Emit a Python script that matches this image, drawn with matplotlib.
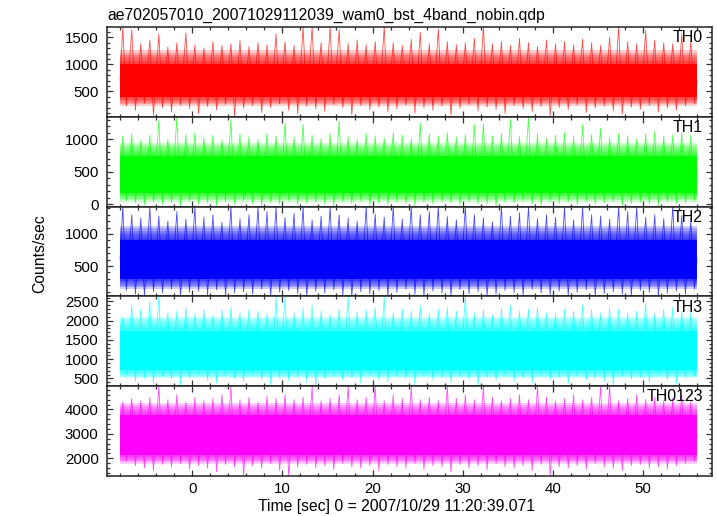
"""
Recreate the Suzaku WAM burst light curve (4 bands + sum) as stacked qdp-style panels.
Output: out.png
"""
import matplotlib.pyplot as plt
import numpy as np
from matplotlib.ticker import MultipleLocator

plt.rcParams["font.family"] = ["Liberation Sans", "DejaVu Sans"]

TITLE = "ae702057010_20071029112039_wam0_bst_4band_nobin.qdp"
XLABEL = "Time [sec] 0 = 2007/10/29 11:20:39.071"
YLABEL = "Counts/sec"

T_START, T_STOP = -8.0, 56.0            # data span (s)
XLIM = (-9.45, 57.65)

BANDS = ["TH0", "TH1", "TH2", "TH3", "TH0123"]
COLORS = ["#ff0000", "#00ff00", "#0000ff", "#00ffff", "#ff00ff"]
YLIMS = [(30, 1690), (-37, 1343), (27, 1427), (300, 2630), (1280, 4950)]
MAJOR = [500, 500, 500, 500, 1000]
MINOR = [100, 100, 100, 100, 200]

# dense core of each band (counts/s), and typical extent of the fringe
CORE = [(400, 1000), (170, 740), (300, 900), (720, 1740), (2120, 3780)]
FRINGE = [(230, 1260), (40, 940), (140, 1130), (500, 2100), (1780, 4250)]

# per-1 s window maxima / minima (windows -8 .. 56 s)
TH0_MAX = [1690, 1640, 1380, 1450, 1560, 1320, 1400, 1580, 1360, 1300, 1420, 1350,
           1380, 1440, 1330, 1400, 1360, 1560, 1420, 1350, 1690, 1690, 1400, 1690,
           1640, 1380, 1450, 1360, 1420, 1690, 1400, 1350, 1460, 1590, 1380, 1650,
           1420, 1360, 1400, 1480, 1690, 1380, 1420, 1350, 1480, 1400, 1330, 1450,
           1380, 1420, 1360, 1470, 1400, 1350, 1500, 1690, 1420, 1380, 1620, 1450,
           1400, 1380, 1560, 1420]
TH0_MIN = [230, 150, 280, 60, 200, 120, 250, 180, 90, 220, 160, 260, 40, 190, 240, 110,
           200, 270, 150, 80, 230, 180, 130, 260, 200, 70, 240, 160, 210, 120, 180, 250,
           100, 200, 150, 230, 60, 190, 260, 140, 210, 170, 90, 240, 180, 130, 220, 50,
           200, 160, 250, 110, 190, 230, 140, 80, 210, 170, 240, 120, 190, 150, 230, 280]
TH1_MAX = [1050, 1080, 980, 1060, 1290, 1000, 1343, 1070, 1100, 1020, 1060, 990,
           1300, 1080, 1040, 1000, 1090, 1050, 1250, 1030, 1230, 1060, 1010, 1080,
           1280, 1040, 1000, 1090, 1050, 1020, 1100, 1060, 1000, 1250, 1080, 1040,
           1100, 1030, 1070, 1220, 1230, 1050, 1090, 1300, 1040, 1343, 1080, 1010,
           1060, 1100, 1040, 1220, 1070, 1170, 1020, 1090, 1050, 1000, 1080, 1120,
           1040, 1070, 1100, 1060]
TH1_MIN = [60, 20, -10, 40, 0, 30, -37, 50, 10, 20, -20, 40, 0, 60, 10, -30, 30, 0, 50,
           -10, 20, 40, 0, -37, 30, 10, 50, -20, 20, 0, 40, 10, -30, 30, 0, 50, 20, -10,
           40, 0, 10, -37, 30, 20, 50, 0, -20, 40, 10, 30, -10, 50, 0, 20, 40, -30, 10,
           30, 0, -20, 40, 10, 20, 50]
TH2_MAX = [1427, 1300, 1250, 1427, 1280, 1200, 1350, 1230, 1427, 1260, 1300, 1180,
           1427, 1240, 1300, 1427, 1350, 1427, 1260, 1320, 1427, 1220, 1280, 1427,
           1300, 1250, 1200, 1427, 1310, 1260, 1427, 1230, 1427, 1300, 1350, 1427,
           1270, 1220, 1427, 1300, 1250, 1190, 1427, 1280, 1330, 1427, 1240, 1300,
           1260, 1427, 1220, 1427, 1300, 1280, 1230, 1427, 1350, 1427, 1260, 1300,
           1240, 1427, 1290, 1200]
TH2_MIN = [120, 60, 27, 100, 80, 140, 27, 90, 110, 50, 130, 27, 80, 100, 60, 140, 27,
           90, 120, 70, 27, 110, 80, 130, 50, 27, 100, 70, 120, 27, 90, 140, 60, 27,
           110, 80, 27, 130, 70, 100, 27, 60, 120, 90, 27, 140, 80, 50, 110, 27, 90,
           130, 27, 70, 100, 60, 27, 120, 90, 27, 80, 110, 60, 140]
TH3_MAX = [2080, 2400, 2300, 2500, 2630, 2200, 2250, 2350, 2180, 2300, 2150, 2280,
           2350, 2200, 2300, 2250, 2180, 2630, 2630, 2200, 2320, 2400, 2250, 2150,
           2300, 2630, 2220, 2280, 2350, 2630, 2200, 2300, 2250, 2400, 2180, 2300,
           2350, 2250, 2630, 2200, 2280, 2150, 2320, 2400, 2250, 2300, 2350, 2200,
           2180, 2300, 2250, 2400, 2280, 2200, 2350, 2300, 2200, 2250, 2450, 2180,
           2300, 2350, 2250, 2200]
TH3_MIN = [600, 420, 500, 350, 550, 480, 300, 520, 600, 450, 380, 560, 500, 420, 600,
           480, 350, 520, 450, 560, 400, 300, 500, 580, 450, 520, 380, 600, 470, 420,
           550, 500, 330, 580, 460, 520, 400, 560, 480, 300, 540, 450, 600, 420, 500,
           380, 560, 470, 520, 350, 580, 450, 500, 420, 300, 560, 480, 530, 400, 600,
           460, 350, 520, 560]
SUM_MAX = [4300, 4450, 4350, 4500, 4950, 4400, 4600, 4300, 4500, 4350, 4450, 4600,
           4950, 4400, 4500, 4300, 4550, 4450, 4600, 4400, 4500, 4950, 4350, 4450,
           4600, 4950, 4400, 4500, 4950, 4350, 4600, 4450, 4950, 4400, 4500, 4350,
           4950, 4450, 4600, 4400, 4950, 4500, 4350, 4450, 4600, 4400, 4950, 4500,
           4350, 4450, 4600, 4400, 4500, 4950, 4950, 4350, 4450, 4600, 4400, 4500,
           4350, 4450, 4600, 4300]
SUM_MIN = [1900, 1700, 1600, 1500, 1750, 1650, 1800, 1550, 1700, 1600, 1450, 1750,
           1650, 1280, 1700, 1600, 1800, 1500, 1280, 1650, 1750, 1600, 1700, 1550,
           1800, 1650, 1600, 1700, 1500, 1750, 1650, 1600, 1800, 1550, 1700, 1650,
           1450, 1750, 1600, 1700, 1550, 1800, 1650, 1600, 1700, 1500, 1750, 1280,
           1650, 1600, 1700, 1550, 1800, 1650, 1600, 1500, 1700, 1750, 1600, 1650,
           1550, 1700, 1800, 1900]

MAXES = [TH0_MAX, TH1_MAX, TH2_MAX, TH3_MAX, SUM_MAX]
MINS = [TH0_MIN, TH1_MIN, TH2_MIN, TH3_MIN, SUM_MIN]

W, H = 717, 516
LEFT, RIGHT, TOP, BOTTOM = 107, 712, 27, 476
panel_h = (BOTTOM - TOP) / len(BANDS)
N_FADE = 6                                 # layers in the soft fringe

fig = plt.figure(figsize=(W / 100, H / 100), dpi=100)
fig.patch.set_facecolor("white")

for i, (band, col) in enumerate(zip(BANDS, COLORS)):
    y0 = 1 - (TOP + panel_h * (i + 1)) / H
    ax = fig.add_axes([LEFT / W, y0, (RIGHT - LEFT) / W, panel_h / H])

    hi = np.array(MAXES[i], dtype=float)
    lo = np.array(MINS[i], dtype=float)
    win = T_START + np.arange(len(hi))          # window start times
    mid = np.mean(CORE[i])
    # zig-zag through each window's max and min
    zx = np.concatenate([[T_START], np.column_stack([win + 0.3, win + 0.7]).ravel(), [T_STOP]])
    zy = np.concatenate([[mid], np.column_stack([hi, lo]).ravel(), [mid]])

    span = [T_START, T_STOP]
    # soft fringe: stacked translucent layers from the fringe edge in to the core
    c_lo, c_hi = CORE[i]
    f_lo, f_hi = FRINGE[i]
    for k in range(N_FADE):
        a = (k + 1) / N_FADE
        ax.fill_between(span, f_lo + (c_lo - f_lo) * k / N_FADE,
                        f_hi - (f_hi - c_hi) * k / N_FADE,
                        color=col, alpha=0.2, lw=0, zorder=1)
    ax.plot(zx, zy, color=col, lw=0.6, alpha=0.7, zorder=2)
    ax.fill_between(span, c_lo, c_hi, color=col, lw=0, zorder=3)

    ax.set_xlim(*XLIM)
    ax.set_ylim(*YLIMS[i])
    ax.xaxis.set_major_locator(MultipleLocator(10))
    ax.xaxis.set_minor_locator(MultipleLocator(2))
    ax.yaxis.set_major_locator(MultipleLocator(MAJOR[i]))
    ax.yaxis.set_minor_locator(MultipleLocator(MINOR[i]))
    ax.tick_params(which="both", direction="in", top=True, right=True,
                   colors="#333333", labelcolor="black", labelsize=10.8, width=0.9)
    ax.tick_params(which="major", length=4.2, pad=6)
    ax.tick_params(which="minor", length=2.4)
    ax.tick_params(axis="x", which="major", pad=4)
    for sp in ax.spines.values():
        sp.set_linewidth(1.1)
        sp.set_color("#222222")
        sp.set_zorder(5)
    if i < len(BANDS) - 1:
        ax.tick_params(labelbottom=False)
    ax.text(0.985, 0.965, band, transform=ax.transAxes, ha="right", va="top",
            fontsize=11.5, zorder=6)

fig.text(LEFT / W, 1 - 15 / H, TITLE, ha="left", va="center", fontsize=11.3)
fig.text(396 / W, 1 - 507 / H, XLABEL, ha="center", va="center", fontsize=11.3)
fig.text(40 / W, 1 - 254 / H, YLABEL, ha="center", va="center", rotation=90, fontsize=11.3)

fig.savefig("out.png", dpi=100, facecolor="white")
